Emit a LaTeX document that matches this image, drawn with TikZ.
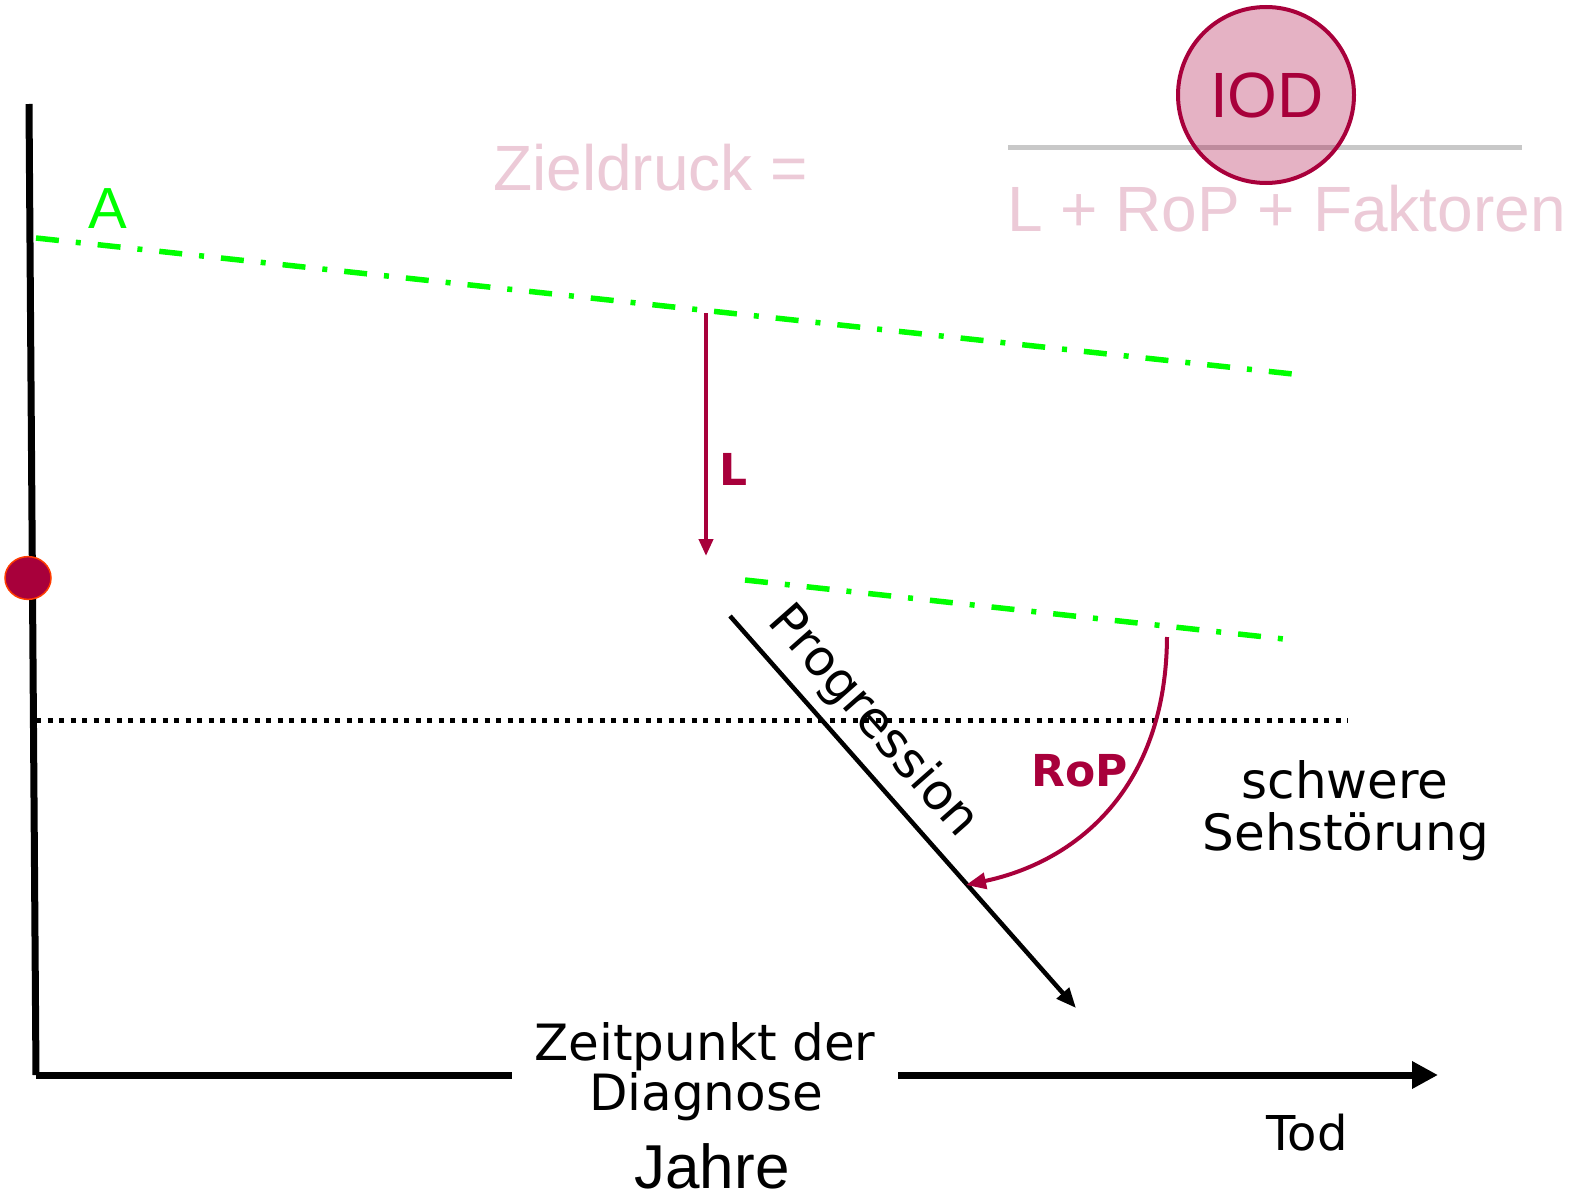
\documentclass[tikz,border=0pt]{standalone}
\usepackage{fontspec}
\setmainfont{Liberation Sans}
\newfontfamily\hand{DejaVu Sans}
\usetikzlibrary{arrows.meta}
\definecolor{crim}{RGB}{168,0,59}
\definecolor{palepink}{RGB}{236,202,215}
\definecolor{lime}{RGB}{0,255,0}
\definecolor{rule}{RGB}{200,200,200}
\begin{document}
\begin{tikzpicture}[x=1pt,y=-1pt,
  axis/.style={line width=7pt},
  target/.style={draw=lime,line width=5.5pt,dash pattern=on 23pt off 17pt on 5pt off 17pt},
  hand/.style={font=\hand\fontsize{50}{52}\selectfont,inner sep=0pt,align=center},
  arial/.style={inner sep=0pt},
  redarrow/.style={draw=crim,line width=4pt,-{Triangle[length=17pt,width=14pt]}}
]
\useasboundingbox (0,0) rectangle (1572,1204);

% axes
\coordinate (ytop) at (29,104);
\coordinate (orig) at (36,1075);
\coordinate (xgapL) at (512,1075);
\coordinate (xgapR) at (898,1075);
\coordinate (xend) at (1438,1075);
\draw[axis] (ytop) -- (orig);
\draw[axis] (orig) -- (xgapL);
\draw[axis,-{Triangle[length=26pt,width=26pt]}] (xgapR) -- (xend);

% severe visual impairment threshold
\coordinate (thrL) at (36,720);
\coordinate (thrR) at (1348,720);
\draw[line width=5pt,dash pattern=on 5pt off 6.5pt] (thrL) -- (thrR);

% target pressure lines
\coordinate (t1a) at (36,238);
\coordinate (t1b) at (1302,375);
\draw[target] (t1a) -- (t1b);
\coordinate (t2a) at (745,580);
\coordinate (t2b) at (1293,640);
\draw[target] (t2a) -- (t2b);
\node[arial,text=lime,font=\fontsize{58}{60}\selectfont,anchor=base west] (labA) at (88,228) {A};

% diagnosis point
\node[circle,fill=crim,draw={rgb,255:red,255;green,60;blue,0},line width=1.5pt,
  minimum width=46pt,inner sep=0pt,yscale=0.93] (diag) at (28,578) {};

% lowering L
\coordinate (Ltop) at (706,313);
\coordinate (Lbot) at (706,556);
\draw[redarrow] (Ltop) -- (Lbot);
\node[hand,text=crim,font=\hand\bfseries\fontsize{44}{46}\selectfont] (labL) at (734,469) {L};

% progression
\coordinate (pa) at (730,616);
\coordinate (pb) at (1076,1008);
\draw[line width=4.5pt,-{Triangle[length=20pt,width=16pt]}] (pa) -- (pb);
\node[hand,rotate=-48.6] (labProg) at (873,722) {Progression};

% rate of progression
\coordinate (ra) at (1167,637);
\coordinate (rb) at (966,885);
\draw[redarrow,-{Triangle[length=20pt,width=16pt]}] (ra) .. controls (1166,790) and (1075,862) .. (rb);
\node[hand,text=crim,font=\hand\bfseries\fontsize{44}{46}\selectfont] (labRoP) at (1080,771) {RoP};

% text labels
\node[hand,anchor=base] (sev1) at (1345,798) {schwere};
\node[hand,anchor=base] (sev2) at (1346,850) {Sehstörung};
\node[hand,anchor=base] (zp1) at (705,1060) {Zeitpunkt der};
\node[hand,anchor=base] (zp2) at (706,1110) {Diagnose};
\node[hand,anchor=base,font=\hand\fontsize{48}{50}\selectfont] (tod) at (1307,1150) {Tod};
\node[arial,anchor=base,font=\fontsize{62}{64}\selectfont] (jahre) at (712,1188) {Jahre};

% target pressure formula
\node[arial,anchor=base west,text=palepink,font=\fontsize{64}{66}\selectfont] (ziel) at (493,190) {Zieldruck =};
\coordinate (fracL) at (1008,148);
\coordinate (fracR) at (1522,148);
\draw[draw=rule,line width=5pt] (fracL) -- (fracR);
\node[arial,anchor=base west,text=palepink,font=\fontsize{64}{66}\selectfont] (denom) at (1007,231) {L + RoP + Faktoren};
\node[circle,draw=crim,line width=4pt,fill=crim,fill opacity=0.3,draw opacity=1,
  minimum size=176pt,inner sep=0pt] (iodc) at (1266,95) {};
\node[arial,anchor=base,text=crim,font=\fontsize{64}{66}\selectfont] (iod) at (1267,118) {IOD};
\end{tikzpicture}
\end{document}
